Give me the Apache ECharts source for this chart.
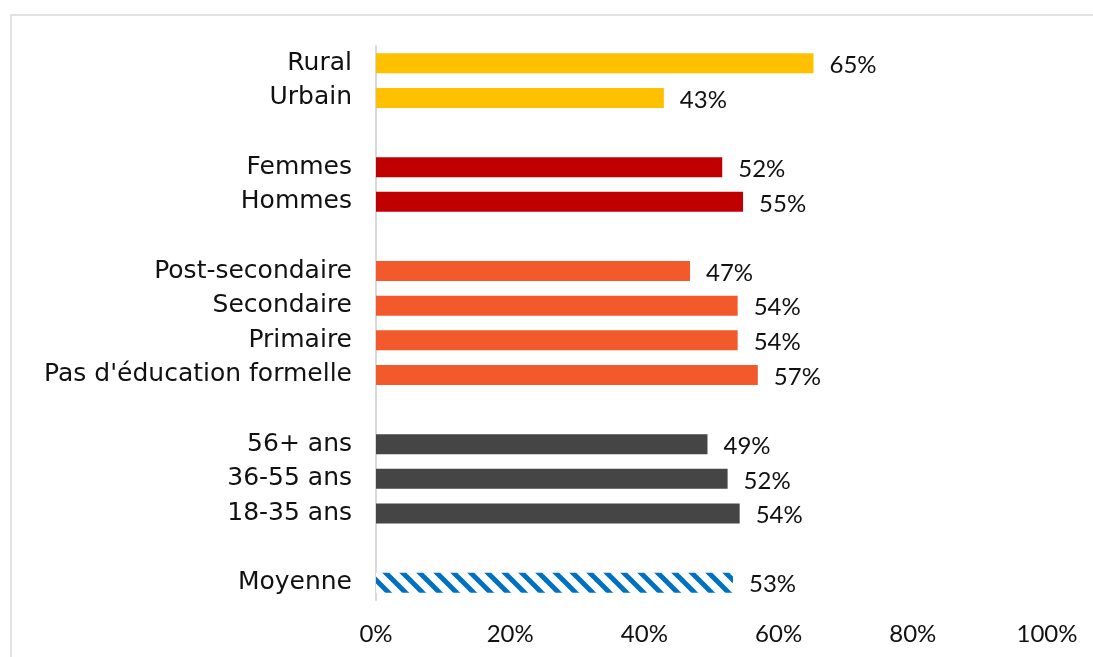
<!DOCTYPE html>
<html>
<head>
<meta charset="utf-8">
<script src="https://cdn.jsdelivr.net/npm/echarts@6/dist/echarts.min.js"></script>
<style>
  html, body { margin: 0; padding: 0; background: #fff; }
  #chart-container { width: 1093px; height: 657px; }
</style>
</head>
<body>
<div id="chart-container"></div>
<script>
// données (de haut en bas, les lignes vides séparent les groupes)
var categories = ['Rural', 'Urbain', ' ', 'Femmes', 'Hommes', '  ',
  'Post-secondaire', 'Secondaire', 'Primaire', "Pas d'éducation formelle", '   ',
  '56+ ans', '36-55 ans', '18-35 ans', '    ', 'Moyenne'];
var values = [65.2, 42.9, null, 51.6, 54.7, null,
  46.8, 53.9, 53.9, 56.9, null,
  49.4, 52.4, 54.2, null, 53.2];
var groups = ['milieu', 'milieu', null, 'sexe', 'sexe', null,
  'education', 'education', 'education', 'education', null,
  'age', 'age', 'age', null, 'moyenne'];
var xTicks = [0, 20, 40, 60, 80, 100];

// motif hachuré pour la moyenne
function makeStripes() {
  var c = document.createElement('canvas');
  c.width = 17; c.height = 17;
  var ctx = c.getContext('2d');
  ctx.fillStyle = '#ffffff';
  ctx.fillRect(0, 0, 17, 17);
  ctx.strokeStyle = '#0070C0';
  ctx.lineWidth = 5;
  for (var k = -1; k <= 1; k++) {
    ctx.beginPath();
    ctx.moveTo(k * 17 - 2, -2);
    ctx.lineTo(k * 17 + 19, 19);
    ctx.stroke();
  }
  return c;
}

var colors = {
  milieu: '#FFC000',
  sexe: '#C00000',
  education: '#F25A2B',
  age: '#454545',
  moyenne: { image: makeStripes(), repeat: 'repeat' }
};

var barData = values.map(function (v, i) {
  if (v === null) return '-';
  return { value: v, itemStyle: { color: colors[groups[i]] } };
});

var dom = document.getElementById('chart-container');
var myChart = echarts.init(dom, null, { renderer: 'canvas' });

var numFont = 'Lato, sans-serif';
var catFont = '"DejaVu Sans", sans-serif';

var option = {
  animation: false,
  backgroundColor: '#fff',
  graphic: [{
    type: 'rect',
    shape: { x: 11, y: 15, width: 1200, height: 800 },
    style: { fill: 'none', stroke: '#d9d9d9', lineWidth: 1.5 },
    silent: true
  }],
  grid: { left: 376, right: 46, top: 46, bottom: 57 },
  xAxis: {
    type: 'value',
    min: xTicks[0],
    max: xTicks[xTicks.length - 1],
    interval: 20,
    splitLine: { show: false },
    axisLine: { show: false },
    axisTick: { show: false },
    axisLabel: {
      fontFamily: numFont,
      fontSize: 24,
      color: '#111',
      margin: 22,
      formatter: '{value}%'
    }
  },
  yAxis: {
    type: 'category',
    inverse: true,
    data: categories,
    axisTick: { show: false },
    axisLine: { show: true, lineStyle: { color: '#d9d9d9', width: 2 } },
    axisLabel: {
      fontFamily: catFont,
      fontSize: 25,
      color: '#111',
      margin: 24
    }
  },
  series: [{
    type: 'bar',
    barWidth: 20,
    data: barData,
    label: {
      show: true,
      position: 'right',
      distance: 16,
      offset: [0, 2],
      fontFamily: numFont,
      fontSize: 24,
      color: '#111',
      formatter: function (params) {
        return Math.round(params.value) + '%';
      }
    }
  }]
};

myChart.setOption(option);
window.addEventListener('resize', myChart.resize);
</script>
</body>
</html>
